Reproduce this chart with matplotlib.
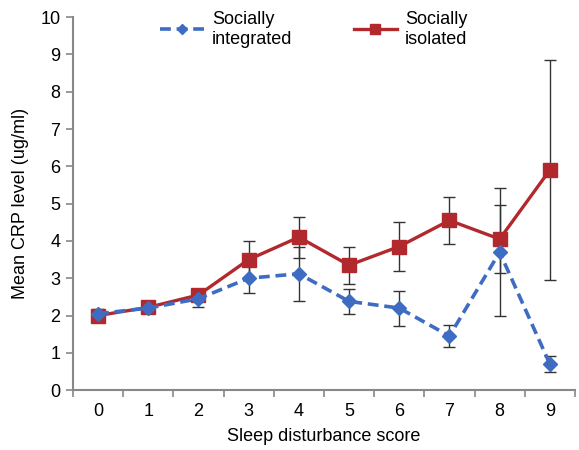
import numpy as np
import matplotlib.pyplot as plt
from matplotlib.ticker import FixedLocator

plt.rcParams['font.family'] = ['Liberation Sans', 'DejaVu Sans']

scores = [0, 1, 2, 3, 4, 5, 6, 7, 8, 9]
integrated = [2.05, 2.2, 2.45, 3.0, 3.12, 2.38, 2.2, 1.45, 3.7, 0.7]
integrated_err = [0.12, 0.12, 0.22, 0.4, 0.73, 0.33, 0.47, 0.3, 1.72, 0.22]
isolated = [2.0, 2.22, 2.55, 3.5, 4.1, 3.35, 3.85, 4.55, 4.05, 5.9]
isolated_err = [0.12, 0.12, 0.15, 0.5, 0.55, 0.5, 0.65, 0.62, 0.91, 2.95]

blue = '#3d6cc2'
red = '#b2292d'
fs = 13

fig = plt.figure(figsize=(5.79, 4.5), dpi=100)
ax = fig.add_axes([0.126, 0.133, 0.867, 0.829])

x = np.array(scores)
ax.errorbar(x, integrated, yerr=integrated_err, fmt='none', ecolor='#333333',
            elinewidth=1.0, capsize=4, capthick=1.0, zorder=2)
ax.errorbar(x, isolated, yerr=isolated_err, fmt='none', ecolor='#333333',
            elinewidth=1.0, capsize=4, capthick=1.0, zorder=2)
ax.plot(x, isolated, color=red, lw=2.4, marker='s', ms=10.5,
        label='Socially\nisolated', zorder=3)
ax.plot(x, integrated, color=blue, lw=2.6, ls=(0, (3, 1.6)), marker='D', ms=7,
        label='Socially\nintegrated', zorder=4)

ax.set_xlim(-0.5, 9.5)
ax.set_ylim(0, 10)
ax.set_xticks(x)
ax.xaxis.set_minor_locator(FixedLocator(np.arange(-0.5, 10, 1)))
ax.tick_params(axis='x', which='major', length=0, labelsize=fs, pad=9)
ax.tick_params(axis='x', which='minor', length=5, direction='out', color='#888888', width=1.2)
ax.set_yticks(np.arange(0, 11, 1))
ax.tick_params(axis='y', length=5, direction='out', color='#888888', width=1.2,
               labelsize=fs, pad=4)

for s in ['top', 'right']:
    ax.spines[s].set_visible(False)
for s in ['left', 'bottom']:
    ax.spines[s].set_color('#888888')
    ax.spines[s].set_linewidth(1.5)

ax.set_xlabel('Sleep disturbance score', fontsize=fs, labelpad=6)
ax.set_ylabel('Mean CRP level (ug/ml)', fontsize=fs, labelpad=8)

h, l = ax.get_legend_handles_labels()
ax.legend(h[::-1], l[::-1], loc='upper center', bbox_to_anchor=(0.48, 1.06), ncol=2,
          frameon=False, fontsize=fs, handlelength=2.4, handletextpad=0.45,
          columnspacing=3.4, markerscale=0.75)

plt.savefig('out.png')
